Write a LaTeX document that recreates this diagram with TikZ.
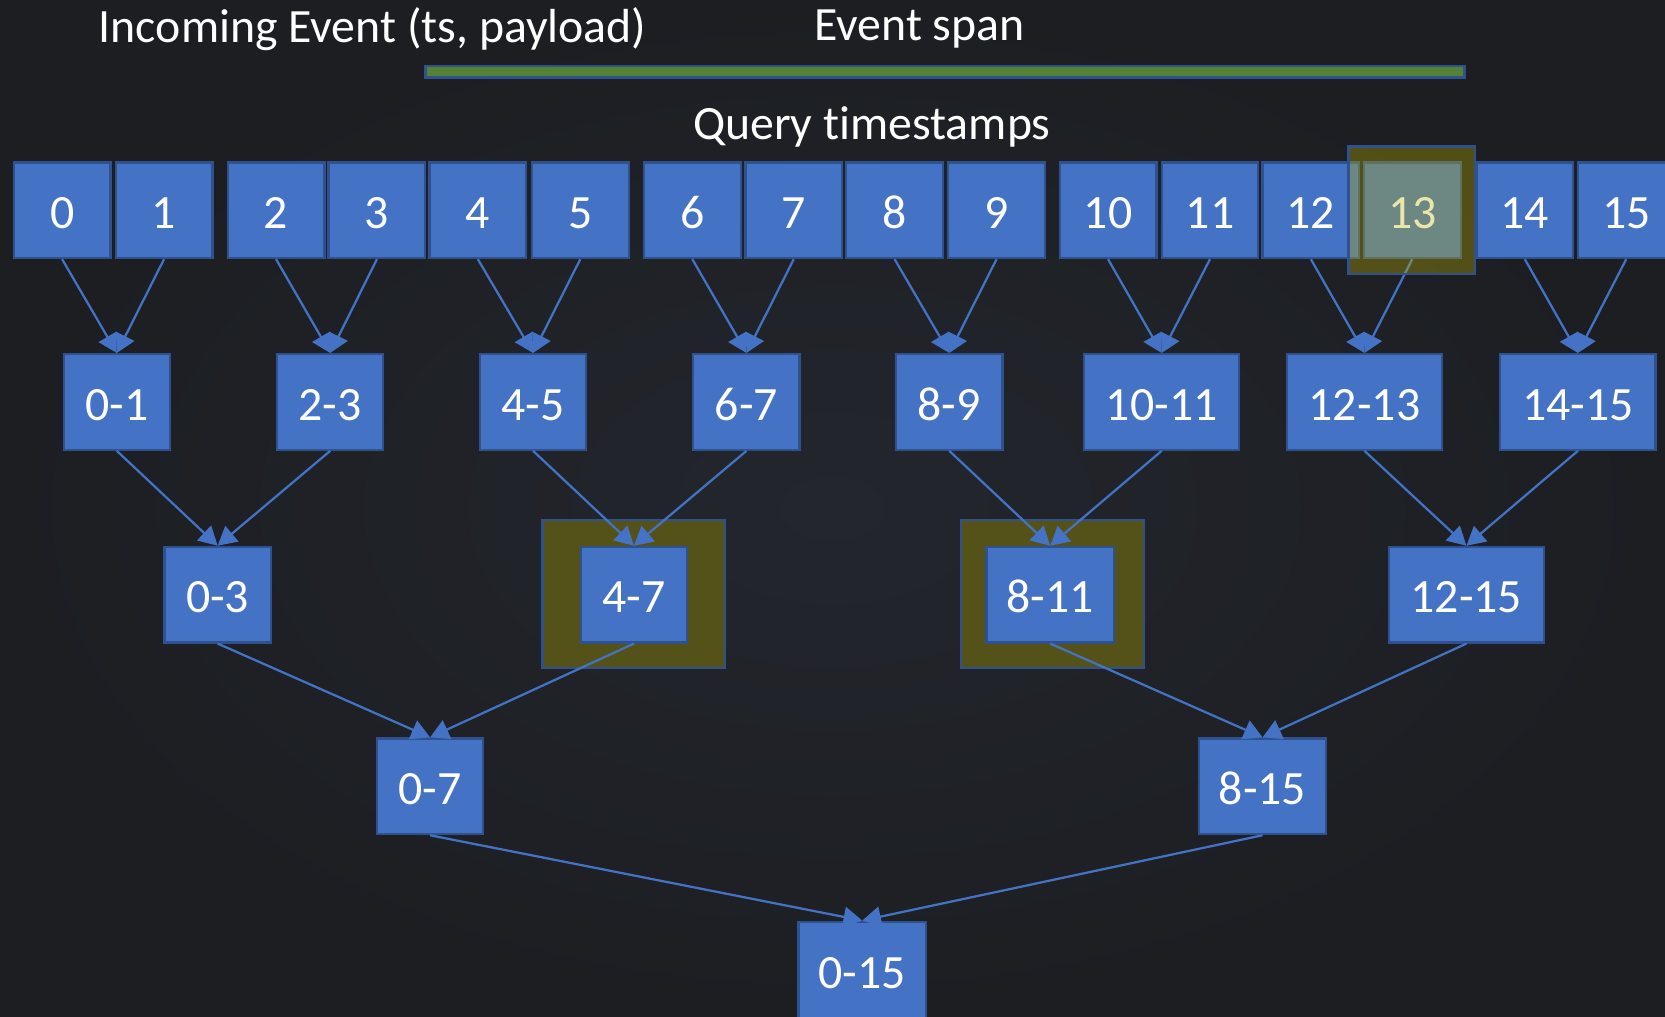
\documentclass[tikz,border=0pt]{standalone}
\usepackage{fontspec}
\setmainfont[Ligatures=NoCommon]{Carlito}
\usetikzlibrary{arrows.meta}
\definecolor{bgin}{HTML}{23262D}
\definecolor{bgout}{HTML}{1C1E22}
\definecolor{boxc}{HTML}{4472C4}
\definecolor{bordc}{HTML}{2F528F}
\definecolor{olivec}{HTML}{545119}
\definecolor{yellowc}{RGB}{194,181,0}
\definecolor{greenc}{HTML}{548235}
\newcommand{\lblfont}{\fontsize{12.8}{15}\selectfont}
\begin{document}
\begin{tikzpicture}[x=0.01cm,y=-0.01cm,
  box/.style={draw=bordc, fill=boxc, line width=0.6pt, inner sep=0pt, text=white, font=\lblfont, minimum height=0.9cm, text height=9.8pt, text depth=0pt},
  txt/.style={text=white, font=\lblfont, inner sep=0pt},
  hl/.style={draw=bordc, fill=olivec, line width=0.6pt, inner sep=0pt},
  conn/.style={draw=boxc, line width=0.6pt, -{Triangle[width=5.4pt,length=5pt]}},
  ww/.style={minimum width=#1 cm}]
\useasboundingbox (0,0) rectangle (1568,957);
\shade[inner color=bgin, outer color=bgout] (0,0) rectangle (1568,957);

% titles
\node[txt, anchor=base] (title) at (351,40) {Incoming Event (ts, payload)};
\node[txt, anchor=base] (span) at (866,38) {Event span};
\node[draw=bordc, fill=greenc, line width=0.6pt, minimum width=9.78cm, minimum height=0.11cm, inner sep=0pt] (bar) at (890,67.5) {};
\node[txt, anchor=base] (query) at (821,131) {Query timestamps};

% highlight frames behind
\node[hl, ww=1.72, minimum height=1.39cm] (h47) at (597,559.5) {};
\node[hl, ww=1.72, minimum height=1.39cm] (h811) at (991,559.5) {};

% top row
\foreach \n/\x in {0/58.5,1/154.5,2/260,3/355,4/450,5/546.5,6/652,7/747.5,8/842.5,9/938.5,10/1043.5,11/1139.5,12/1234.5,13/1330,14/1436,15/1531.5}
  \node[box, ww=0.91] (t\n) at (\x,198) {\n};

% level 2
\node[box, ww=1.00] (a01) at (110,378.5) {0-1};
\node[box, ww=1.00] (a23) at (311,378.5) {2-3};
\node[box, ww=1.00] (a45) at (502,378.5) {4-5};
\node[box, ww=1.00] (a67) at (703,378.5) {6-7};
\node[box, ww=1.00] (a89) at (894,378.5) {8-9};
\node[box, ww=1.46] (a1011) at (1094,378.5) {10-11};
\node[box, ww=1.46] (a1213) at (1285,378.5) {12-13};
\node[box, ww=1.46] (a1415) at (1486,378.5) {14-15};

% level 3
\node[box, ww=1.00] (b03) at (205,560) {0-3};
\node[box, ww=1.00] (b47) at (597,560) {4-7};
\node[box, ww=1.20] (b811) at (989,560) {8-11};
\node[box, ww=1.46] (b1215) at (1381,560) {12-15};

% level 4
\node[box, ww=1.00] (c07) at (405,740.5) {0-7};
\node[box, ww=1.20] (c815) at (1189,740.5) {8-15};

% level 5
\node[box, ww=1.20, minimum height=0.91cm] (d015) at (812,913.5) {0-15};

% connectors
\foreach \a/\b/\p in {0/1/a01,2/3/a23,4/5/a45,6/7/a67,8/9/a89,10/11/a1011,12/13/a1213,14/15/a1415}{
  \draw[conn] (t\a.south) -- (\p.north);
  \draw[conn] (t\b.south) -- (\p.north);
}
\foreach \a/\b/\p in {a01/a23/b03,a45/a67/b47,a89/a1011/b811,a1213/a1415/b1215,b03/b47/c07,b811/b1215/c815,c07/c815/d015}{
  \draw[conn] (\a.south) -- (\p.north);
  \draw[conn] (\b.south) -- (\p.north);
}

% translucent highlight over 13
\node[draw=bordc, fill=yellowc, fill opacity=0.33, line width=0.6pt, inner sep=0pt, ww=1.19, minimum height=1.20cm] (h13) at (1329.5,198) {};
\end{tikzpicture}
\end{document}
